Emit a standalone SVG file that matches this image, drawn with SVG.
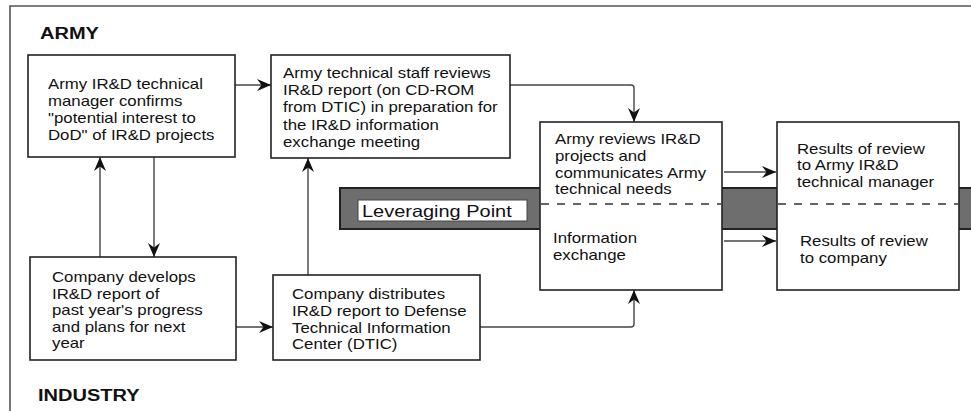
<svg xmlns="http://www.w3.org/2000/svg" width="971" height="411" viewBox="0 0 971 411">
<style>
.box{fill:#fff;stroke:#222;stroke-width:1.6}
.t{font-family:"Liberation Sans",Arial,sans-serif;font-size:14px;fill:#111}
.h{font-family:"Liberation Sans",Arial,sans-serif;font-size:16px;font-weight:bold;fill:#111}
.c{fill:none;stroke:#444;stroke-width:1.4}
.frame{fill:none;stroke:#555;stroke-width:1.6}
.dash{stroke:#333;stroke-width:1.3;stroke-dasharray:8 8}
</style>
<defs>
<marker id="ah" markerUnits="userSpaceOnUse" markerWidth="15" markerHeight="13" refX="14" refY="6.5" orient="auto">
<path d="M0,0.5 L14,6.5 L0,12.5 L4.5,6.5 Z" fill="#111"/>
</marker>
</defs>
<rect width="971" height="411" fill="#fff"/>
<path class="frame" d="M10,411 V6 H971"/>
<text class="h" transform="matrix(1.25,0,0,1,40,39)">ARMY</text>
<text class="h" transform="matrix(1.25,0,0,1,38,401)">INDUSTRY</text>

<g id="leveraging-bar">
<rect x="340" y="188" width="640" height="41" fill="#6e6e6e" stroke="#222" stroke-width="2"/>
<rect x="358" y="200" width="169" height="21" fill="#fff" stroke="#444" stroke-width="1"/>
<text class="t" style="font-size:16.5px" transform="matrix(1.21,0,0,1,362,217)">Leveraging Point</text>
</g>

<g id="connectors">
<path class="c" d="M235,85 H271" marker-end="url(#ah)"/>
<path class="c" d="M510,85 H631 Q634,85 634,88 V122" marker-end="url(#ah)"/>
<path class="c" d="M100,257 V157" marker-end="url(#ah)"/>
<path class="c" d="M154,157 V257" marker-end="url(#ah)"/>
<path class="c" d="M236,327 H273" marker-end="url(#ah)"/>
<path class="c" d="M308,275 V158" marker-end="url(#ah)"/>
<path class="c" d="M480,327 H631 Q634,327 634,324 V290" marker-end="url(#ah)"/>
<path class="c" d="M724,172 H776" marker-end="url(#ah)"/>
<path class="c" d="M724,241 H776" marker-end="url(#ah)"/>
</g>

<g id="node-army-manager">
<rect class="box" x="28" y="55" width="207" height="102"/>
<text class="t" transform="matrix(1.2,0,0,1,48,88.5)"><tspan x="0" y="0">Army IR&amp;D technical</tspan><tspan x="0" y="17.3">manager confirms</tspan><tspan x="0" y="34.6">"potential interest to</tspan><tspan x="0" y="51.9">DoD" of IR&amp;D projects</tspan></text>
</g>

<g id="node-army-staff">
<rect class="box" x="271" y="55" width="239" height="103"/>
<text class="t" transform="matrix(1.2,0,0,1,283,77.5)"><tspan x="0" y="0">Army technical staff reviews</tspan><tspan x="0" y="17.4">IR&amp;D report (on CD-ROM</tspan><tspan x="0" y="34.8">from DTIC) in preparation for</tspan><tspan x="0" y="52.2">the IR&amp;D information</tspan><tspan x="0" y="69.6">exchange meeting</tspan></text>
</g>

<g id="node-army-reviews">
<rect class="box" x="540" y="122" width="182" height="168"/>
<line class="dash" x1="541" y1="204" x2="721" y2="204"/>
<text class="t" transform="matrix(1.2,0,0,1,555,144)"><tspan x="0" y="0">Army reviews IR&amp;D</tspan><tspan x="0" y="16.8">projects and</tspan><tspan x="0" y="33.6">communicates Army</tspan><tspan x="0" y="50.4">technical needs</tspan></text>
<text class="t" transform="matrix(1.2,0,0,1,553,243)"><tspan x="0" y="0">Information</tspan><tspan x="0" y="17">exchange</tspan></text>
</g>

<g id="node-results">
<rect class="box" x="777" y="122" width="182" height="168"/>
<line class="dash" x1="778" y1="204" x2="958" y2="204"/>
<text class="t" transform="matrix(1.2,0,0,1,797,153.5)"><tspan x="0" y="0">Results of review</tspan><tspan x="0" y="17">to Army IR&amp;D</tspan><tspan x="0" y="34">technical manager</tspan></text>
<text class="t" transform="matrix(1.2,0,0,1,800,246)"><tspan x="0" y="0">Results of review</tspan><tspan x="0" y="17">to company</tspan></text>
</g>

<g id="node-company-develops">
<rect class="box" x="30" y="257" width="206" height="103"/>
<text class="t" transform="matrix(1.2,0,0,1,52,282.3)"><tspan x="0" y="0">Company develops</tspan><tspan x="0" y="16.5">IR&amp;D report of</tspan><tspan x="0" y="33">past year's progress</tspan><tspan x="0" y="49.5">and plans for next</tspan><tspan x="0" y="66">year</tspan></text>
</g>

<g id="node-company-distributes">
<rect class="box" x="273" y="275" width="207" height="85"/>
<text class="t" transform="matrix(1.2,0,0,1,292,299)"><tspan x="0" y="0">Company distributes</tspan><tspan x="0" y="16.8">IR&amp;D report to Defense</tspan><tspan x="0" y="33.6">Technical Information</tspan><tspan x="0" y="50.4">Center (DTIC)</tspan></text>
</g>
</svg>
